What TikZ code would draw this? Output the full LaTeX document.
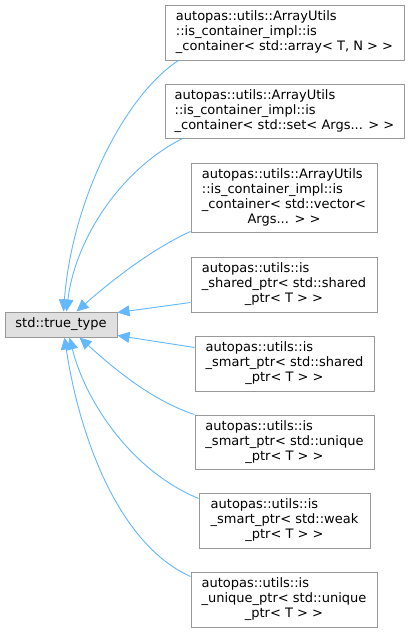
\documentclass[tikz,border=0pt]{standalone}
\usepackage{fontspec}
\setmainfont{DejaVu Sans}
\usetikzlibrary{arrows.meta}
\definecolor{edgeblue}{HTML}{63B8FF}
\definecolor{boxgray}{HTML}{999999}
\definecolor{basefill}{HTML}{E0E0E0}
\newcommand{\lbl}[2]{\begin{tabular}{@{}l@{}}#1\\\multicolumn{1}{@{}c@{}}{#2}\end{tabular}}
\begin{document}
\begin{tikzpicture}[x=1pt,y=-1pt,
  cls/.style={draw=boxgray,fill=white,line width=1pt,inner sep=0pt,font=\fontsize{13}{15}\selectfont},
  basecls/.style={cls,fill=basefill},
  edge/.style={draw=edgeblue,line width=0.9pt,{Triangle[length=12pt,width=11pt,fill=edgeblue]}-}]
\useasboundingbox[fill=white] (0,0) rectangle (409,632);
\node[basecls,minimum width=112pt,minimum height=25pt] (t) at (61,324.5) {std::true\_type};
\node[cls,minimum width=239pt,minimum height=55pt] (n1) at (284.5,32.5) {\lbl{autopas::utils::ArrayUtils\\::is\_container\_impl::is}{\_container< std::array< T, N > >}};
\node[cls,minimum width=239pt,minimum height=54pt] (n2) at (284.5,111) {\lbl{autopas::utils::ArrayUtils\\::is\_container\_impl::is}{\_container< std::set< Args... > >}};
\node[cls,minimum width=186pt,minimum height=69pt] (n3) at (284,197.5) {\lbl{autopas::utils::ArrayUtils\\::is\_container\_impl::is\\\_container< std::vector<}{Args... > >}};
\node[cls,minimum width=186pt,minimum height=55pt] (n4) at (284,284.5) {\lbl{autopas::utils::is\\\_shared\_ptr< std::shared}{\_ptr< T > >}};
\node[cls,minimum width=179pt,minimum height=55pt] (n5) at (284.5,363.5) {\lbl{autopas::utils::is\\\_smart\_ptr< std::shared}{\_ptr< T > >}};
\node[cls,minimum width=179pt,minimum height=54pt] (n6) at (284.5,442) {\lbl{autopas::utils::is\\\_smart\_ptr< std::unique}{\_ptr< T > >}};
\node[cls,minimum width=171pt,minimum height=55pt] (n7) at (284.5,520.5) {\lbl{autopas::utils::is\\\_smart\_ptr< std::weak}{\_ptr< T > >}};
\node[cls,minimum width=186pt,minimum height=55pt] (n8) at (284,599.5) {\lbl{autopas::utils::is\\\_unique\_ptr< std::unique}{\_ptr< T > >}};
\draw[edge] ([xshift=59pt]t.north west) .. controls (72,200) and (125,95) .. ([xshift=14pt]n1.south west);
\draw[edge] ([xshift=62pt]t.north west) .. controls (75,240) and (120,170) .. ([xshift=18pt]n2.south west);
\draw[edge] ([xshift=72pt]t.north west) .. controls (110,282) and (150,250) .. ([yshift=1pt]n3.south west);
\draw[edge] ([yshift=-1pt]t.north east) -- ([yshift=10pt]n4.south west);
\draw[edge] ([yshift=2pt]t.south east) -- ([yshift=-12pt]n5.north west);
\draw[edge] ([xshift=75pt]t.south west) .. controls (110,365) and (150,400) .. (n6.north west);
\draw[edge] ([xshift=65pt]t.south west) .. controls (85,400) and (130,470) .. ([yshift=-6pt]n7.north west);
\draw[edge] ([xshift=60pt]t.south west) .. controls (80,440) and (120,545) .. ([yshift=-5pt]n8.north west);
\end{tikzpicture}
\end{document}
